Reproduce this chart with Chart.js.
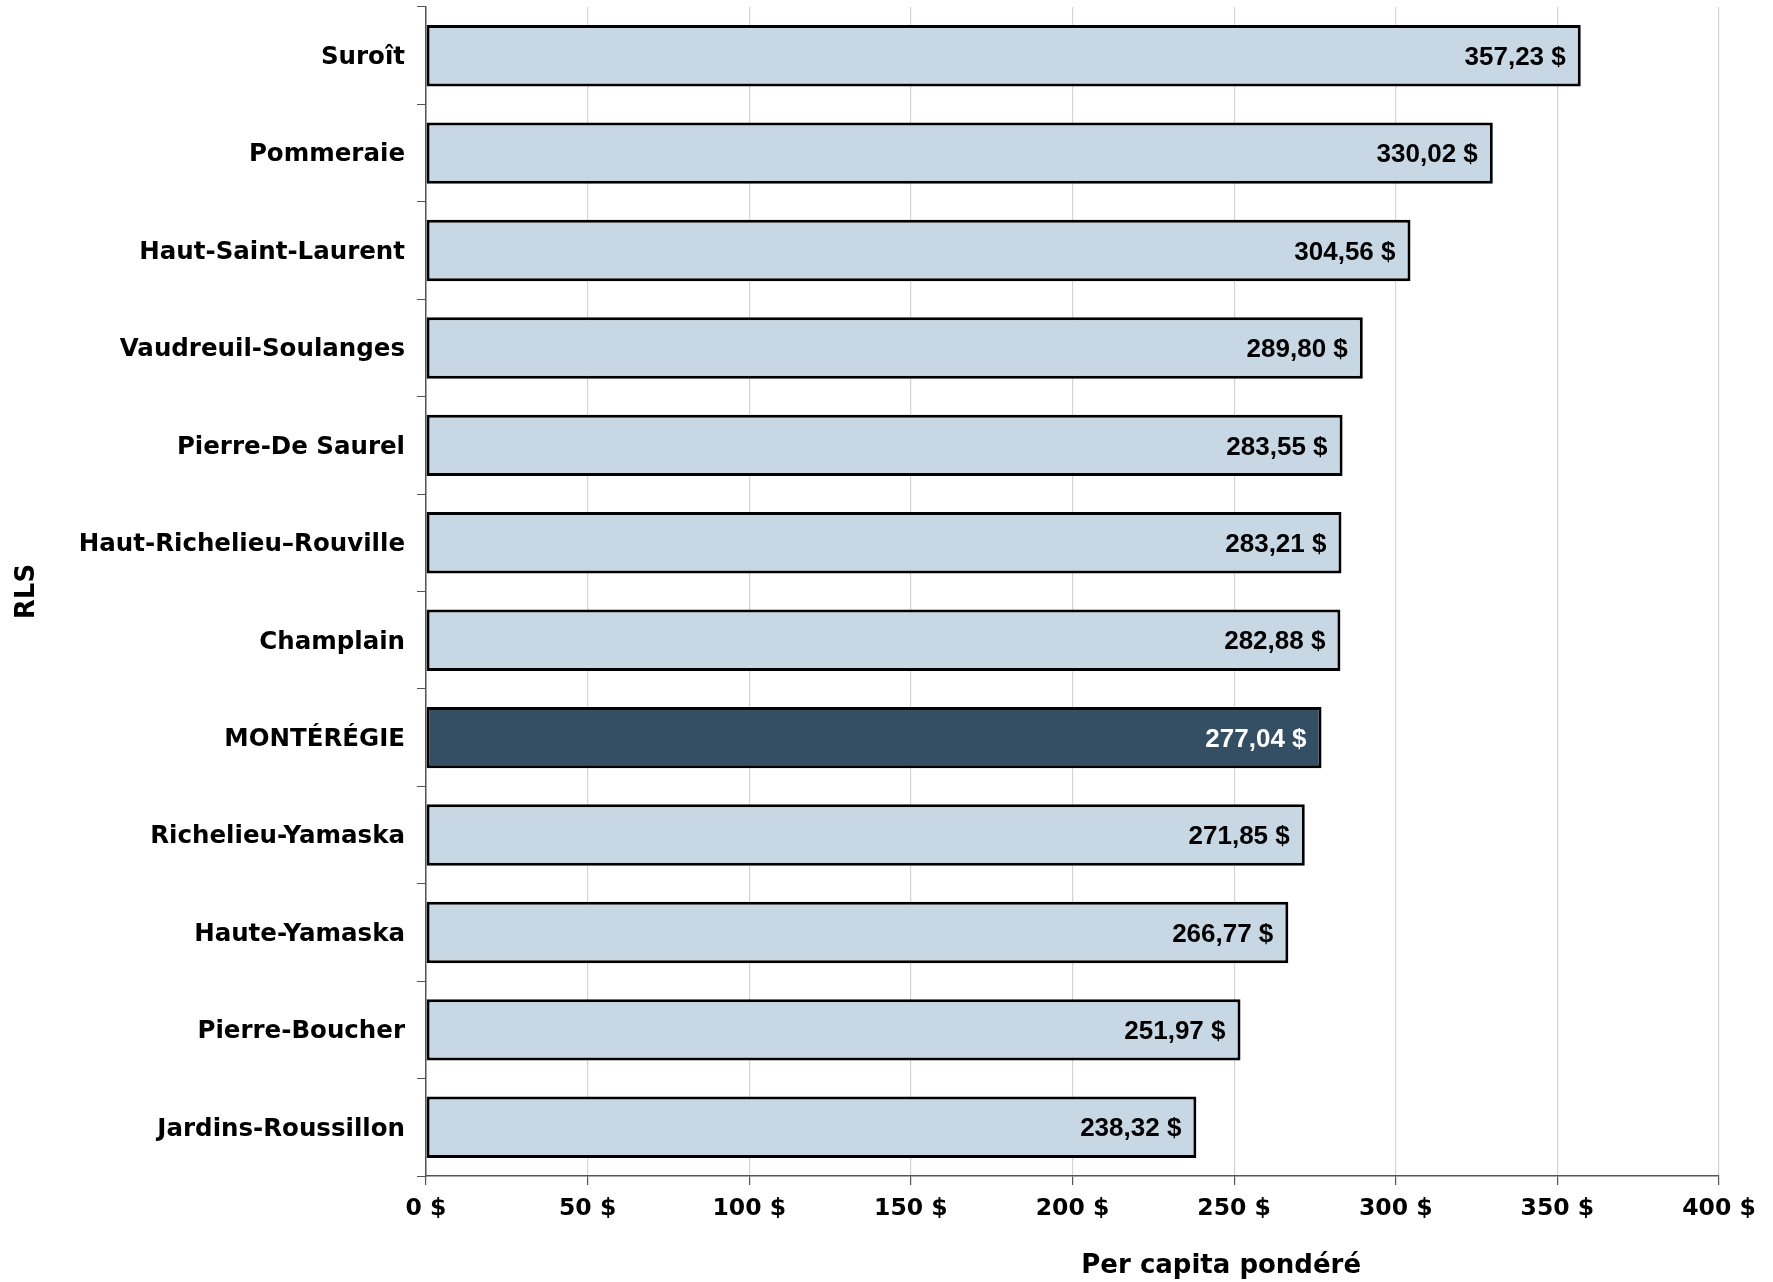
<!DOCTYPE html>
<html lang="fr">
<head>
<meta charset="utf-8">
<title>Per capita pondéré par RLS</title>
<script src="https://cdn.jsdelivr.net/npm/chart.js@4/dist/chart.umd.min.js"></script>
<style>
  html, body { margin: 0; padding: 0; background: #fff; }
  #wrap { width: 1773px; height: 1282px; }
</style>
</head>
<body>
<div id="wrap"><canvas id="rls-chart" width="1773" height="1282"></canvas></div>
<script>
// Data
let categories = ['Suroît', 'Pommeraie', 'Haut-Saint-Laurent', 'Vaudreuil-Soulanges', 'Pierre-De Saurel',
  'Haut-Richelieu–Rouville', 'Champlain', 'MONTÉRÉGIE', 'Richelieu-Yamaska', 'Haute-Yamaska',
  'Pierre-Boucher', 'Jardins-Roussillon']
let perCapita = [357.23, 330.02, 304.56, 289.80, 283.55, 283.21, 282.88, 277.04, 271.85, 266.77, 251.97, 238.32]
let xTicks = [0, 50, 100, 150, 200, 250, 300, 350, 400]
let regionName = 'MONTÉRÉGIE'

let lightBlue = '#c7d7e3',
    darkBlue  = '#344e63',
    axisGrey  = '#555555'

function money (v, decimals) {
  return v.toFixed(decimals).replace('.', ',') + ' $'
}

//Value labels drawn at the end of each bar
let barLabels = {
  id: 'barLabels',
  afterDatasetsDraw: function (chart) {
    let ctx  = chart.ctx,
        meta = chart.getDatasetMeta(0)
    ctx.save()
    ctx.font = 'bold 26px "Liberation Sans", Arial, sans-serif'
    ctx.textAlign = 'right'
    ctx.textBaseline = 'middle'
    meta.data.forEach(function (bar, i) {
      ctx.fillStyle = categories[i] === regionName ? '#ffffff' : '#000000'
      ctx.fillText(money(perCapita[i], 2), bar.x - 15, bar.y + 2)
    })
    ctx.restore()
  }
}

//X axis title sits right of the plot centre in the original
let xTitle = {
  id: 'xTitle',
  afterDraw: function (chart) {
    let ctx  = chart.ctx,
        area = chart.chartArea
    ctx.save()
    ctx.font = 'bold 26px "DejaVu Sans", Verdana, sans-serif'
    ctx.fillStyle = '#000'
    ctx.textAlign = 'center'
    ctx.textBaseline = 'middle'
    ctx.fillText('Per capita pondéré', area.left + (area.right - area.left) * 0.615, area.bottom + 90)
    ctx.restore()
  }
}

let chart = new Chart(document.getElementById('rls-chart'), {
  type   : 'bar',
  data   : {
    labels  : categories,
    datasets: [{
      label             : 'Per capita pondéré',
      data              : perCapita,
      backgroundColor   : categories.map(c => c === regionName ? darkBlue : lightBlue),
      borderColor       : '#000000',
      borderWidth       : 3,
      borderSkipped     : false,
      categoryPercentage: 1,
      barPercentage     : 0.63
    }]
  },
  options: {
    indexAxis          : 'y',
    responsive         : false,
    animation          : false,
    devicePixelRatio   : 1,
    layout             : {padding: {top: 7, right: 54, left: 0, bottom: 0}},
    plugins            : {
      legend : {display: false},
      tooltip: {enabled: false}
    },
    scales             : {
      x: {
        type   : 'linear',
        min    : 0,
        max    : 400,
        afterFit: function (s) { s.height = 106 },
        afterBuildTicks: function (s) { s.ticks = xTicks.map(v => ({value: v})) },
        ticks  : {
          callback: v => v + ' $',
          color   : '#000',
          padding : 10,
          font    : {family: '"DejaVu Sans", Verdana, sans-serif', size: 23.5, weight: 'bold'}
        },
        grid   : {color: '#d4d4d4', lineWidth: 1.2, tickColor: axisGrey, tickLength: 9},
        border : {color: axisGrey, width: 1.5}
      },
      y: {
        afterFit: function (s) {
          s.width = 426
          s.paddingTop = 0
          s.paddingBottom = 0
        },
        ticks  : {
          color      : '#000',
          padding    : 12,
          labelOffset: 2,
          font       : {family: '"DejaVu Sans", Verdana, sans-serif', size: 24.5, weight: 'bold'}
        },
        grid   : {drawOnChartArea: false, offset: true, color: axisGrey, tickLength: 9},
        border : {color: axisGrey, width: 1.5},
        title  : {
          display: true,
          text   : 'RLS',
          color  : '#000',
          padding: {top: 12, bottom: 0},
          font   : {family: '"DejaVu Sans", Verdana, sans-serif', size: 26, weight: 'bold'}
        }
      }
    }
  },
  plugins: [barLabels, xTitle]
})
</script>
</body>
</html>
